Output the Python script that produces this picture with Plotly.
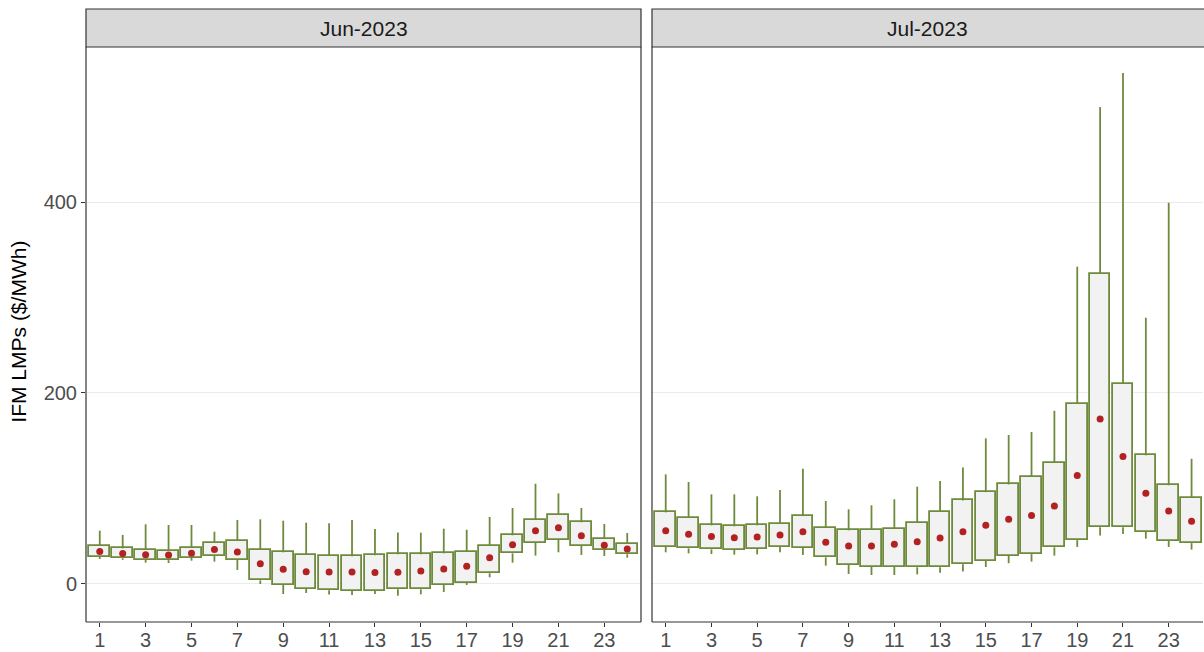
import plotly.graph_objects as go

hours = list(range(1, 25))
panels = ["Jun-2023", "Jul-2023"]

jun_q1 = [28.6, 26.9, 25.1, 25.0, 27.6, 29.3, 25.1, 3.8, -0.7, -5.2, -6.6, -7.0, -7.0, -5.6, -5.6, -0.7, 1.4, 11.2, 32.1, 43.3, 46.1, 39.8, 35.6, 31.1]
jun_q3 = [39.8, 37.3, 35.6, 35.0, 37.7, 42.9, 45.4, 36.0, 33.2, 30.7, 29.3, 29.0, 30.0, 31.1, 31.1, 32.1, 33.9, 39.8, 51.0, 67.0, 72.3, 64.6, 47.1, 41.9]
jun_mean = [33.9, 31.8, 30.7, 30.4, 32.1, 36.0, 33.5, 21.3, 15.4, 12.9, 12.6, 12.6, 12.0, 12.2, 13.6, 15.7, 18.5, 27.6, 41.2, 55.8, 59.0, 50.6, 40.5, 36.6]
jun_hi = [55.8, 51.3, 62.5, 61.8, 61.8, 54.8, 67.0, 67.7, 66.3, 64.2, 63.5, 67.0, 57.5, 53.8, 53.8, 57.9, 56.8, 70.2, 79.6, 105.0, 94.9, 79.6, 62.8, 53.4]
jun_lo = [26.2, 25.2, 22.3, 22.0, 24.4, 23.4, 14.7, 0.0, -10.5, -9.4, -11.0, -11.5, -10.5, -12.2, -10.8, -8.4, -1.0, 7.0, 22.3, 29.7, 33.2, 30.4, 29.3, 27.6]

jul_q1 = [39.1, 37.3, 36.3, 35.6, 36.6, 38.7, 37.7, 27.9, 19.9, 18.1, 18.1, 17.5, 17.5, 20.6, 24.2, 29.7, 31.3, 38.4, 45.9, 59.4, 59.4, 54.7, 45.5, 42.8]
jul_q3 = [75.0, 69.5, 61.4, 60.4, 61.4, 63.2, 71.5, 59.0, 56.2, 56.5, 57.9, 64.2, 75.3, 87.5, 96.2, 104.2, 112.5, 126.7, 188.5, 324.8, 209.9, 134.7, 103.4, 90.3]
jul_mean = [55.8, 52.0, 49.6, 48.5, 49.2, 51.3, 54.8, 43.6, 39.8, 39.8, 41.5, 44.3, 48.2, 54.7, 61.4, 67.7, 71.7, 81.6, 113.7, 172.7, 133.5, 95.0, 76.4, 65.7]
jul_hi = [114.8, 106.8, 93.9, 93.9, 91.8, 98.4, 120.8, 86.9, 78.2, 82.4, 88.7, 101.9, 107.9, 122.0, 152.5, 156.0, 159.2, 181.4, 332.3, 499.4, 535.0, 278.8, 399.2, 131.1]
jul_lo = [33.2, 32.1, 31.4, 30.7, 31.0, 33.2, 30.4, 19.2, 10.5, 9.4, 9.4, 10.1, 11.9, 13.1, 17.8, 21.8, 23.4, 29.7, 38.8, 50.7, 52.3, 47.5, 38.8, 36.0]

x_ticks = list(range(1, 24, 2))
y_ticks = [0, 200, 400]

GREEN = "#6E8B3D"
FILL = "#F2F2F2"
RED = "#B22222"
FONT = "Liberation Sans, Arial, sans-serif"

W, H = 1204, 652
ML, MR, MT, MB = 86, 1, 47, 30
PW = W - ML - MR
PH = H - MT - MB
dom1 = [0, 555 / PW]
dom2 = [566 / PW, 1.0]

fig = go.Figure()

data = [
    (jun_q1, jun_q3, jun_mean, jun_hi, jun_lo, "x", "y"),
    (jul_q1, jul_q3, jul_mean, jul_hi, jul_lo, "x2", "y2"),
]

for q1, q3, mn, hi, lo, xa, ya in data:
    wx, wy = [], []
    for h, a, b, l, u in zip(hours, q1, q3, lo, hi):
        wx += [h, h, None, h, h, None]
        wy += [b, u, None, l, a, None]
    fig.add_trace(go.Scatter(x=wx, y=wy, mode="lines", line=dict(color=GREEN, width=1.8),
                             xaxis=xa, yaxis=ya, hoverinfo="skip", showlegend=False))
    fig.add_trace(go.Bar(x=hours, y=[b - a for a, b in zip(q1, q3)], base=q1, width=0.9,
                         marker=dict(color=FILL, line=dict(color=GREEN, width=1.8)),
                         xaxis=xa, yaxis=ya, showlegend=False))
    fig.add_trace(go.Scatter(x=hours, y=mn, mode="markers",
                             marker=dict(color=RED, size=7),
                             xaxis=xa, yaxis=ya, showlegend=False))

tickfont = dict(family=FONT, size=20, color="#4D4D4D")
axis_common = dict(showgrid=False, zeroline=False, ticks="outside", ticklen=4,
                   tickcolor="#333333", tickwidth=1, tickfont=tickfont, automargin=False,
                   ticklabelstandoff=-4)

fig.update_layout(
    width=W, height=H,
    margin=dict(l=ML, r=MR, t=MT, b=MB, autoexpand=False),
    paper_bgcolor="white", plot_bgcolor="white",
    barmode="overlay", bargap=0,
    showlegend=False,
    xaxis=dict(domain=dom1, range=[0.4, 24.6], tickvals=x_ticks, anchor="y", **axis_common),
    xaxis2=dict(domain=dom2, range=[0.4, 24.5], tickvals=x_ticks, anchor="y2", **axis_common),
    yaxis=dict(range=[-39.8, 562.3], tickvals=y_ticks, showgrid=True, gridcolor="#EBEBEB",
               gridwidth=1, anchor="x", zeroline=False, ticks="outside", ticklen=4,
               tickcolor="#333333", tickwidth=1, tickfont=tickfont, automargin=False),
    yaxis2=dict(range=[-39.8, 562.3], tickvals=y_ticks, showgrid=True, gridcolor="#EBEBEB",
                gridwidth=1, anchor="x2", showticklabels=False, ticks="",
                zeroline=False, automargin=False),
    font=dict(family=FONT),
)

strip_h = 38 / PH
shapes = []
annotations = []
for i, (dom, name) in enumerate(zip([dom1, dom2], panels)):
    x0, x1 = dom
    shapes.append(dict(type="line", xref="paper", yref="paper", x0=x0, x1=x1, y0=0, y1=0,
                       line=dict(color="#333333", width=1.2)))
    shapes.append(dict(type="line", xref="paper", yref="paper", x0=x0, x1=x0, y0=0, y1=1,
                       line=dict(color="#333333", width=1.2)))
    if i == 0:
        shapes.append(dict(type="line", xref="paper", yref="paper", x0=x1, x1=x1, y0=0, y1=1,
                           line=dict(color="#333333", width=1.2)))
    shapes.append(dict(type="rect", xref="paper", yref="paper", x0=x0, x1=x1 if i == 0 else 1.01,
                       y0=1, y1=1 + strip_h, fillcolor="#D9D9D9",
                       line=dict(color="#333333", width=1.2)))
    annotations.append(dict(text=name, xref="paper", yref="paper", x=(x0 + x1) / 2,
                            y=1 + strip_h / 2, showarrow=False, xanchor="center", yanchor="middle",
                            font=dict(family=FONT, size=21, color="#1A1A1A")))

annotations.append(dict(text="IFM LMPs ($/MWh)", xref="paper", yref="paper",
                        x=(19 - ML) / PW, y=0.505, textangle=-90, showarrow=False,
                        xanchor="center", yanchor="middle",
                        font=dict(family=FONT, size=21, color="#000000")))

fig.update_layout(shapes=shapes, annotations=annotations)

fig.write_html("out.html", config={"displayModeBar": False},
               post_script="document.body.style.margin='0';document.body.style.overflow='hidden';")
